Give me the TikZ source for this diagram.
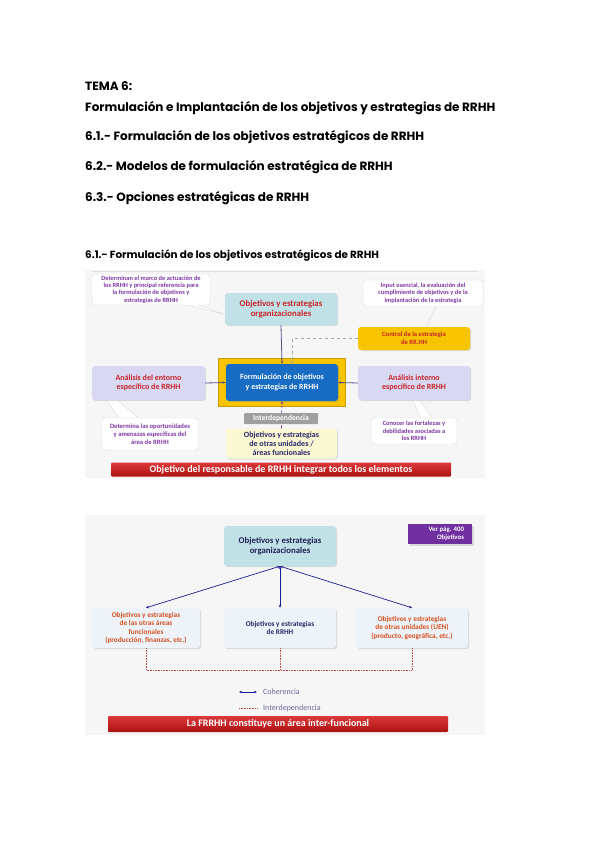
\documentclass[tikz,border=0pt]{standalone}
\usepackage{fontspec}
\setmainfont{Carlito}
\newfontfamily\headfont{Poppins}
\usetikzlibrary{shadows,arrows.meta}

\definecolor{notepurple}{RGB}{125,55,165}
\definecolor{boxred}{RGB}{200,35,40}
\definecolor{tealfill}{RGB}{192,226,230}
\definecolor{lavender}{RGB}{216,216,242}
\definecolor{goldfill}{RGB}{248,196,0}
\definecolor{coreblue}{RGB}{24,108,196}
\definecolor{paleyellow}{RGB}{251,248,212}
\definecolor{bannerred}{RGB}{214,22,22}
\definecolor{navy}{RGB}{40,40,105}
\definecolor{orangetext}{RGB}{212,80,32}
\definecolor{verpurple}{RGB}{112,48,160}
\definecolor{paleblue}{RGB}{238,243,249}

\tikzset{
 head/.style={anchor=west, inner sep=0pt, font=\headfont\bfseries\fontsize{12}{14}\selectfont},
 note/.style={draw=gray!30, fill=white, rounded corners=3pt, align=center, inner sep=1pt,
   text=notepurple, font=\bfseries\fontsize{6.4}{7.4}\selectfont},
 box/.style={rounded corners=3pt, align=center, inner sep=1pt,
   drop shadow={shadow xshift=1pt, shadow yshift=-1pt, opacity=.25},
   font=\bfseries\fontsize{8.8}{10.5}\selectfont},
 midbox/.style={box, font=\bfseries\fontsize{8}{9.6}\selectfont},
 smallbox/.style={box, font=\bfseries\fontsize{7.3}{8.6}\selectfont},
 banner/.style={rounded corners=1pt, top color=bannerred!85!white, bottom color=bannerred!80!black,
   text=white, inner sep=0pt, font=\bfseries\fontsize{10}{12}\selectfont},
 link/.style={-{Stealth[length=3pt,width=2.6pt]}, navy!80, line width=0.8pt},
 dlink/.style={-{Stealth[length=3pt,width=2.6pt]}, gray!70, dashed, line width=0.7pt},
 coh/.style={{Stealth[length=3pt,width=2.6pt]}-{Stealth[length=3pt,width=2.6pt]}, navy!70!blue, line width=0.7pt},
 inter/.style={red!60!black!70, densely dotted, line width=0.6pt},
}

\begin{document}
\begin{tikzpicture}[x=1pt, y=-1pt]
 \useasboundingbox (0,0) rectangle (599,848);
 \fill[white] (0,0) rectangle (599,848);

 % headings
 \node[head] (tema) at (85,86) {TEMA 6:};
 \node[head] (titulo) at (85,108) {Formulación e Implantación de los objetivos y estrategias de RRHH};
 \node[head] (h1) at (85,137) {6.1.- Formulación de los objetivos estratégicos de RRHH};
 \node[head] (h2) at (85,167) {6.2.- Modelos de formulación estratégica de RRHH};
 \node[head] (h3) at (85,198) {6.3.- Opciones estratégicas de RRHH};
 \node[head, font=\headfont\bfseries\fontsize{10.4}{12}\selectfont] (sub) at (85,256) {6.1.- Formulación de los objetivos estratégicos de RRHH};

 % first diagram
 \fill[gray!7] (85,270) rectangle (485,478);
 \draw[gray!25] (92,271) -- (478,271);

 \node[note, minimum width=118pt, minimum height=31pt] (marco) at (151,289.5)
  {Determinan el marco de actuación de\\los RRHH y principal referencia para\\la formulación de objetivos y\\estrategias de RRHH};
 \node[note, minimum width=120pt, minimum height=26pt] (input) at (423,293)
  {Input esencial, la evaluación del\\cumplimiento de objetivos y de la\\implantación de la estrategia};
 \draw[gray!30, fill=white] (188,305) -- (226,315) -- (198,305);
 \draw[gray!30] (436,306) -- (426,327);

 \node[box, fill=tealfill, text=boxred, minimum width=112pt, minimum height=32pt] (org) at (281,309)
  {Objetivos y estrategias\\organizacionales};
 \node[box, fill=goldfill, text=boxred, font=\bfseries\fontsize{6.6}{8.2}\selectfont, minimum width=112pt, minimum height=23pt] (control) at (414,338.5)
  {Control de la estrategia\\de RR.HH};

 \node[fill=goldfill, draw=goldfill!80!black, line width=0.6pt, minimum width=127pt, minimum height=48pt] (marcoamarillo) at (281.5,382) {};
 \node[midbox, fill=coreblue, text=white, minimum width=112pt, minimum height=37pt] (formulacion) at (282,382.5)
  {Formulación de objetivos\\y estrategias de RRHH};

 \node[midbox, fill=lavender, text=boxred, minimum width=113pt, minimum height=34pt] (entorno) at (148.5,383)
  {Análisis del entorno\\específico de RRHH};
 \node[midbox, fill=lavender, text=boxred, minimum width=112pt, minimum height=34pt] (interno) at (414,383)
  {Análisis interno\\específico de RRHH};

 \draw[gray!30, fill=white] (107,401) -- (124,425) -- (140,419) -- (118,401);
 \draw[gray!30, fill=white] (413,401) -- (421,419) -- (433,419) -- (420,401);
 \node[note, font=\bfseries\fontsize{6.6}{7.8}\selectfont, minimum width=96pt, minimum height=32pt] (oportunidades) at (150,434)
  {Determina las oportunidades\\y amenazas específicas del\\área de RRHH};
 \node[note, font=\bfseries\fontsize{6.4}{7.6}\selectfont, minimum width=86pt, minimum height=26pt] (fortalezas) at (414,431)
  {Conocer las fortalezas y\\debilidades asociadas a\\los RRHH};

 \node[midbox, fill=paleyellow, text=navy, font=\bfseries\fontsize{8}{9}\selectfont, minimum width=111pt, minimum height=30pt, drop shadow={opacity=0}] (otras) at (281.5,443.5)
  {Objetivos y estrategias\\de otras unidades /\\áreas funcionales};
 \draw[-{Stealth[length=3pt,width=2.6pt]}, notepurple, densely dashed, line width=0.7pt] (otras.north) -- (formulacion.south);
 \node[fill=gray!75, text=white, rounded corners=1pt, inner sep=0pt, minimum width=74pt, minimum height=11pt,
  font=\bfseries\fontsize{7.6}{8}\selectfont] (interdep) at (281,418.5) {Interdependencia};

 \draw[link] (org.south) -- (formulacion.north);
 \draw[dlink] (control.west) -| ([xshift=10pt]formulacion.north);
 \draw[link] (entorno.east) -- (formulacion.west);
 \draw[link] (interno.west) -- (formulacion.east);

 \node[banner, minimum width=340pt, minimum height=14pt] (objetivo) at (281,469.5)
  {Objetivo del responsable de RRHH integrar todos los elementos};

 % second diagram
 \fill[gray!7] (85,515) rectangle (485,735);

 \node[box, fill=tealfill, text=navy!80!black, minimum width=112pt, minimum height=40pt] (org2) at (280,546)
  {Objetivos y estrategias\\organizacionales};
 \node[fill=verpurple, minimum width=64pt, minimum height=20pt, drop shadow={opacity=.25}] (verpag) at (440,533.5) {};
 \node[anchor=east, align=right, text=white, inner sep=0pt,
  font=\bfseries\fontsize{6.8}{7.6}\selectfont] (vertexto) at ([xshift=-8pt]verpag.east) {Ver pág. 400\\Objetivos};

 \node[smallbox, fill=paleblue, text=orangetext, minimum width=108pt, minimum height=40pt] (areas) at (146,628)
  {Objetivos y estrategias\\de las otras áreas\\funcionales\\(producción, finanzas, etc.)};
 \node[smallbox, fill=paleblue, text=navy, minimum width=112pt, minimum height=40pt] (rrhh) at (280,628)
  {Objetivos y estrategias\\de RRHH};
 \node[smallbox, fill=paleblue, text=orangetext, minimum width=112pt, minimum height=40pt] (uen) at (412,628)
  {Objetivos y estrategias\\de otras unidades (UEN)\\(producto, geográfica, etc.)};

 \draw[coh] (org2.south) -- (areas.north);
 \draw[coh] (org2.south) -- (rrhh.north);
 \draw[coh] (org2.south) -- (uen.north);

 \coordinate (j1) at (146,670);
 \coordinate (j3) at (412,670);
 \draw[inter] (areas.south) -- (j1) -- (j3) -- (uen.south);
 \draw[inter] (rrhh.south) -- (rrhh.south |- j1);

 \coordinate (c1) at (239,692);
 \coordinate (c2) at (257,692);
 \coordinate (i1) at (239,708);
 \coordinate (i2) at (257,708);
 \draw[coh] (c1) -- (c2);
 \draw[inter] (i1) -- (i2);
 \node[anchor=west, inner sep=0pt, text=navy!70, font=\fontsize{8}{9}\selectfont] (coherencia) at (263,692) {Coherencia};
 \node[anchor=west, inner sep=0pt, text=navy!70, font=\fontsize{8}{9}\selectfont] (interdep2) at (263,708) {Interdependencia};

 \node[banner, minimum width=340pt, minimum height=16pt] (frrhh) at (278,724)
  {La FRRHH constituye un área inter-funcional};
\end{tikzpicture}
\end{document}
